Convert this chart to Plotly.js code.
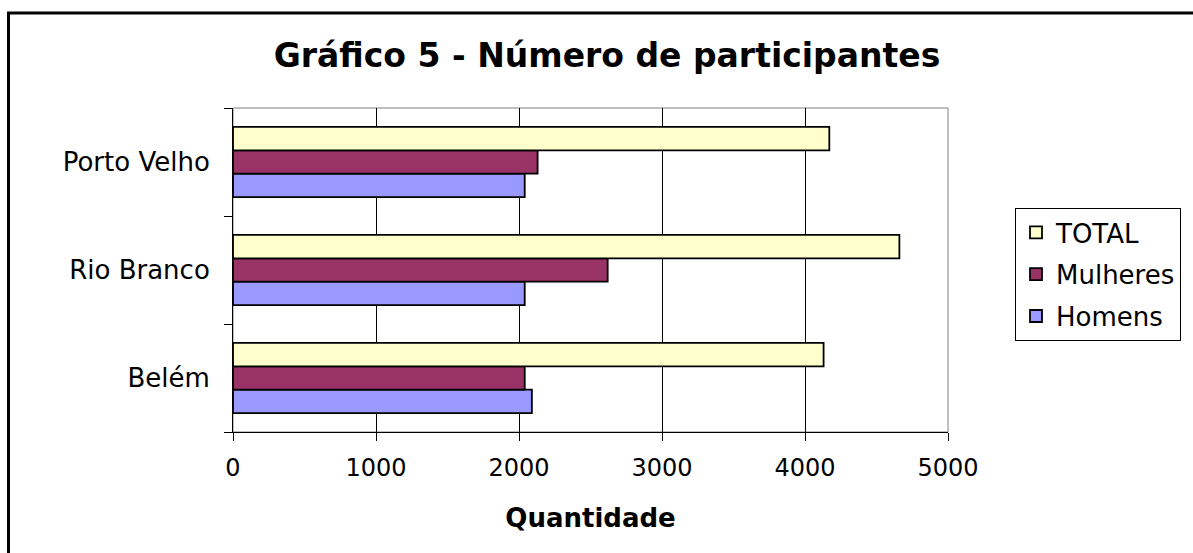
<!DOCTYPE html>
<html>
<head>
<meta charset="utf-8">
<script src="https://cdn.plot.ly/plotly-3.0.1.min.js"></script>
<style>
html,body{margin:0;padding:0;background:#fff;}
#chart{width:1193px;height:553px;}
</style>
</head>
<body>
<div id="chart"></div>
<script>
const categories = ['Belém', 'Rio Branco', 'Porto Velho'];
const homens = [2090, 2040, 2040];
const mulheres = [2040, 2620, 2130];
const total = [4130, 4660, 4170];
const seriesNames = ['Homens', 'Mulheres', 'TOTAL'];
const xTicks = [0, 1000, 2000, 3000, 4000, 5000];

const FONT = 'DejaVu Sans, Arial, sans-serif';
const colors = ['#9999FF', '#993366', '#FFFFCC'];
const values = [homens, mulheres, total];

const traces = values.map((v, i) => ({
  type: 'bar',
  orientation: 'h',
  name: seriesNames[i],
  legendgroup: seriesNames[i],
  legendrank: 1000 - i,
  y: categories,
  x: v,
  marker: {color: colors[i], line: {color: '#000', width: 1.8}},
  hoverinfo: 'x+name'
}));

// plot area in pixels: x 233..948, y 108..432
const L = 233, R = 948, T = 108, B = 432;
const px = p => (p - L) / (R - L);
const py = p => (B - p) / (B - T);

const layout = {
  width: 1193, height: 553,
  margin: {l: L, r: 1193 - R, t: T, b: 553 - B, pad: 0},
  paper_bgcolor: '#fff', plot_bgcolor: '#fff',
  font: {family: FONT, color: '#000'},
  title: {text: '<b>Gráfico 5 - Número de participantes</b>', font: {family: FONT, size: 33, color: '#000'},
          x: 607 / 1193, xanchor: 'center', y: 1 - 55 / 553, yanchor: 'middle'},
  barmode: 'group', bargap: 0.35, bargroupgap: 0,
  xaxis: {
    range: [0, 5000], tickvals: xTicks, ticktext: xTicks.map(String),
    ticks: 'outside', ticklen: 8, tickcolor: '#000', tickwidth: 1,
    showline: true, linecolor: '#000', linewidth: 1,
    showgrid: true, gridcolor: '#000', gridwidth: 1, zeroline: false,
    tickfont: {family: FONT, size: 24, color: '#000'},
    ticklabelstandoff: 6,
    title: {text: '<b>Quantidade</b>', font: {family: FONT, size: 26, color: '#000'}, standoff: 28},
    fixedrange: true
  },
  yaxis: {
    type: 'category', categoryorder: 'array', categoryarray: categories,
    ticks: 'outside', tickson: 'boundaries', ticklen: 8, tickcolor: '#000', tickwidth: 1,
    showline: true, linecolor: '#000', linewidth: 1,
    showgrid: false, zeroline: false,
    tickfont: {family: FONT, size: 26, color: '#000'},
    ticklabelstandoff: 17,
    fixedrange: true
  },
  legend: {
    x: px(1015), xanchor: 'left', y: py(208), yanchor: 'top',
    bgcolor: '#fff', bordercolor: '#000', borderwidth: 1,
    font: {family: FONT, size: 26, color: '#000'},
    traceorder: 'grouped', tracegroupgap: 5
  },
  shapes: [
    {type: 'rect', xref: 'paper', yref: 'paper', x0: 0, x1: 1, y0: 0, y1: 1,
     line: {color: '#808080', width: 1}, layer: 'below'},
    {type: 'path', xref: 'paper', yref: 'paper',
     path: `M ${px(8.5)} ${py(560)} L ${px(8.5)} ${py(13)} L ${px(1200)} ${py(13)}`,
     line: {color: '#000', width: 3}}
  ],
  showlegend: true
};

Plotly.newPlot('chart', traces, layout, {displayModeBar: false, staticPlot: true});
</script>
</body>
</html>
